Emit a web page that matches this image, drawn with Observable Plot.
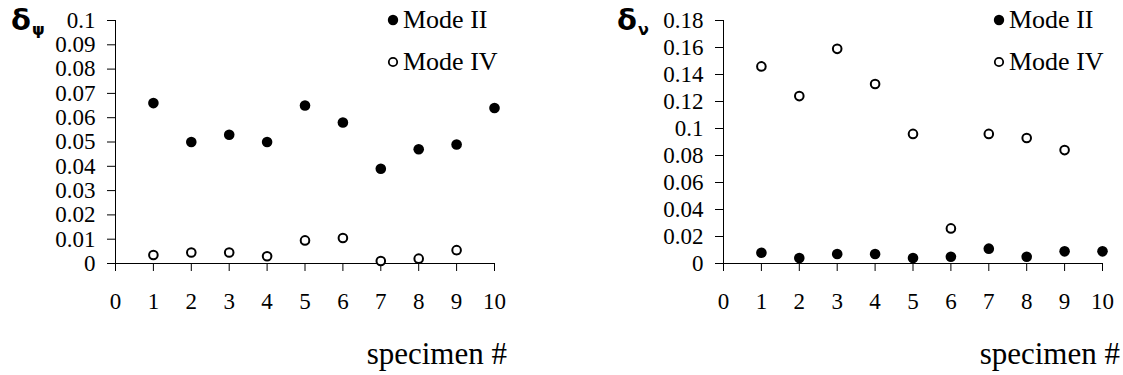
<!DOCTYPE html>
<html>
<head>
<meta charset="utf-8">
<script src="https://cdn.jsdelivr.net/npm/d3@7"></script>
<script src="https://cdn.jsdelivr.net/npm/@observablehq/plot@0.6"></script>
<style>
  html, body { margin: 0; padding: 0; background: #fff; }
  #wrap { position: relative; width: 1123px; height: 375px; overflow: hidden; font-family: "Liberation Serif", "Times New Roman", serif; }
  #wrap svg, #wrap svg g, #wrap svg text { font-family: "Liberation Serif", "Times New Roman", serif !important; }
  .panel { position: absolute; top: 0; }
  .ylab { position: absolute; font-family: "DejaVu Sans", sans-serif; font-weight: bold; font-size: 29px; line-height: 1; color: #000; }
  .ylab sub { font-size: 16px; vertical-align: -5px; margin-left: 1px; }
  .legend { position: absolute; font-family: "Liberation Serif", serif; font-size: 26px; line-height: 1; color: #000; }
  .legend .row { display: flex; align-items: center; height: 42px; }
  .legend svg { margin-right: 4px; }
  .xlab { position: absolute; font-family: "Liberation Serif", serif; font-size: 31px; line-height: 1; color: #000; white-space: nowrap; }
</style>
</head>
<body>
<div id="wrap"></div>
<script>
// ---- data ----
const specimens = [1, 2, 3, 4, 5, 6, 7, 8, 9, 10];
const xTicks = [0, 1, 2, 3, 4, 5, 6, 7, 8, 9, 10];

const psiModeII = [0.066, 0.050, 0.053, 0.050, 0.065, 0.058, 0.039, 0.047, 0.049, 0.064];
const psiModeIV = [0.0035, 0.0045, 0.0045, 0.003, 0.0095, 0.0105, 0.001, 0.002, 0.0055, null];
const psiTicks = [0, 0.01, 0.02, 0.03, 0.04, 0.05, 0.06, 0.07, 0.08, 0.09, 0.1];

const nuModeII = [0.008, 0.004, 0.007, 0.007, 0.004, 0.005, 0.011, 0.005, 0.009, 0.009];
const nuModeIV = [0.146, 0.124, 0.159, 0.133, 0.096, 0.026, 0.096, 0.093, 0.084, null];
const nuTicks = [0, 0.02, 0.04, 0.06, 0.08, 0.1, 0.12, 0.14, 0.16, 0.18];

const seriesNames = ["Mode II", "Mode IV"];

const SERIF = '"Liberation Serif", "Times New Roman", serif';

function rows(vals) {
  return specimens.map((s, i) => ({ x: s, y: vals[i] })).filter(d => d.y != null);
}

function fmt(d) { return String(+d.toFixed(2)); }

function makePlot({ width, marginLeft, marginRight, ticks, filled, open }) {
  const ymax = ticks[ticks.length - 1];
  const svg = Plot.plot({
    width,
    height: 375,
    marginLeft,
    marginRight,
    marginTop: 20,
    marginBottom: 112,
    style: { fontFamily: SERIF, fontSize: "23px", color: "#000", background: "#fff", overflow: "visible" },
    x: { domain: [0, 10] },
    y: { domain: [0, ymax] },
    marks: [
      Plot.ruleY([0], { stroke: "#000", strokeWidth: 1 }),
      Plot.ruleX([0], { y1: 0, y2: ymax, stroke: "#000", strokeWidth: 1 }),
      Plot.axisX({ ticks: xTicks, tickSize: 8, tickPadding: 21, tickFormat: d => String(d), fontSize: 23, fontFamily: SERIF, label: null, stroke: "#000" }),
      Plot.axisY({ ticks, tickSize: 8, tickPadding: 12, tickFormat: fmt, fontSize: 23, fontFamily: SERIF, label: null, stroke: "#000" }),
      Plot.dot(rows(filled), { x: "x", y: "y", r: 5.3, fill: "#000", stroke: "none" }),
      Plot.dot(rows(open), { x: "x", y: "y", r: 4.3, fill: "#fff", stroke: "#000", strokeWidth: 2 })
    ]
  });
  svg.setAttribute("font-family", SERIF);
  d3.select(svg).selectAll("g, text").attr("font-family", SERIF).style("font-family", SERIF);
  return svg;
}

const wrap = document.getElementById("wrap");

function addPanel(left, plot) {
  const d = document.createElement("div");
  d.className = "panel";
  d.style.left = left + "px";
  d.appendChild(plot);
  wrap.appendChild(d);
}

addPanel(0, makePlot({ width: 561, marginLeft: 115, marginRight: 67, ticks: psiTicks, filled: psiModeII, open: psiModeIV }));
addPanel(561, makePlot({ width: 562, marginLeft: 162, marginRight: 21, ticks: nuTicks, filled: nuModeII, open: nuModeIV }));

function addYLabel(left, sym, sub) {
  const d = document.createElement("div");
  d.className = "ylab";
  d.style.left = left + "px";
  d.style.top = "6px";
  d.innerHTML = sym + "<sub>" + sub + "</sub>";
  wrap.appendChild(d);
}
addYLabel(11, "δ", "ψ");
addYLabel(617, "δ", "ν");

function addLegend(left) {
  const d = document.createElement("div");
  d.className = "legend";
  d.style.left = left + "px";
  d.style.top = "-1px";
  seriesNames.forEach((name, i) => {
    const row = document.createElement("div");
    row.className = "row";
    const sym = i === 0
      ? '<svg width="12" height="12"><circle cx="6" cy="6" r="5.2" fill="#000"/></svg>'
      : '<svg width="12" height="12"><circle cx="6" cy="6" r="4.2" fill="#fff" stroke="#000" stroke-width="1.8"/></svg>';
    row.innerHTML = sym + "<span>" + name + "</span>";
    d.appendChild(row);
  });
  wrap.appendChild(d);
}
addLegend(387);
addLegend(993);

function addXLabel(right) {
  const d = document.createElement("div");
  d.className = "xlab";
  d.style.right = (1123 - right) + "px";
  d.style.top = "338px";
  d.textContent = "specimen #";
  wrap.appendChild(d);
}
addXLabel(507);
addXLabel(1120);
</script>
</body>
</html>
